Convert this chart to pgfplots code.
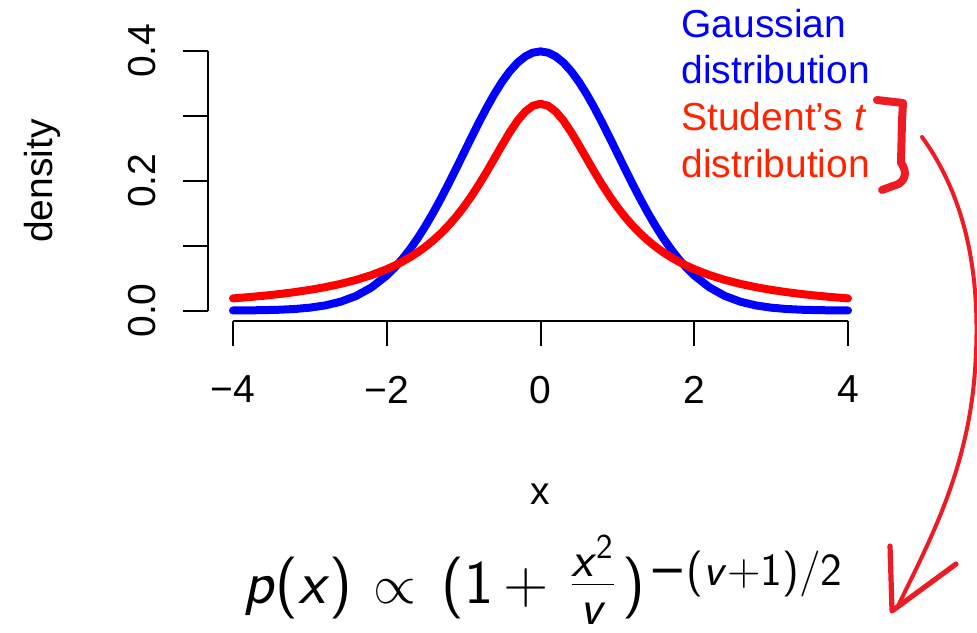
\documentclass[border=0pt]{standalone}
\usepackage{graphicx}
\usepackage{fontspec}
\setmainfont{Liberation Sans}
\newfontfamily\dejavu{DejaVu Sans}
\usepackage{pgfplots}
\usepackage{pgfplotstable}
\pgfplotsset{compat=1.18}

\definecolor{gaussblue}{RGB}{0,0,255}
\definecolor{tred}{RGB}{255,0,0}
\definecolor{tlabel}{RGB}{255,35,0}
\definecolor{ink}{RGB}{237,28,36}

% standard normal density
\pgfplotstableread{
x y
-4.0 0.00013
-3.8 0.00029
-3.6 0.00061
-3.4 0.00123
-3.2 0.00238
-3.0 0.00443
-2.8 0.00792
-2.6 0.01358
-2.4 0.02239
-2.2 0.03547
-2.0 0.05399
-1.9 0.06562
-1.8 0.07895
-1.7 0.09405
-1.6 0.11092
-1.5 0.12952
-1.4 0.14973
-1.3 0.17137
-1.2 0.19419
-1.1 0.21785
-1.0 0.24197
-0.9 0.26609
-0.8 0.28969
-0.7 0.31225
-0.6 0.33322
-0.5 0.35207
-0.4 0.36827
-0.3 0.38139
-0.2 0.39104
-0.1 0.39695
0.0 0.39894
0.1 0.39695
0.2 0.39104
0.3 0.38139
0.4 0.36827
0.5 0.35207
0.6 0.33322
0.7 0.31225
0.8 0.28969
0.9 0.26609
1.0 0.24197
1.1 0.21785
1.2 0.19419
1.3 0.17137
1.4 0.14973
1.5 0.12952
1.6 0.11092
1.7 0.09405
1.8 0.07895
1.9 0.06562
2.0 0.05399
2.2 0.03547
2.4 0.02239
2.6 0.01358
2.8 0.00792
3.0 0.00443
3.2 0.00238
3.4 0.00123
3.6 0.00061
3.8 0.00029
4.0 0.00013
}\gausstab

% Student's t density, one degree of freedom
\pgfplotstableread{
x y
-4.0 0.01872
-3.8 0.02062
-3.6 0.02280
-3.4 0.02534
-3.2 0.02832
-3.0 0.03183
-2.8 0.03601
-2.6 0.04102
-2.4 0.04709
-2.2 0.05451
-2.0 0.06366
-1.9 0.06905
-1.8 0.07507
-1.7 0.08183
-1.6 0.08941
-1.5 0.09794
-1.4 0.10754
-1.3 0.11833
-1.2 0.13045
-1.1 0.14403
-1.0 0.15915
-0.9 0.17586
-0.8 0.19409
-0.7 0.21363
-0.6 0.23405
-0.5 0.25465
-0.4 0.27441
-0.3 0.29203
-0.2 0.30607
-0.1 0.31516
0.0 0.31831
0.1 0.31516
0.2 0.30607
0.3 0.29203
0.4 0.27441
0.5 0.25465
0.6 0.23405
0.7 0.21363
0.8 0.19409
0.9 0.17586
1.0 0.15915
1.1 0.14403
1.2 0.13045
1.3 0.11833
1.4 0.10754
1.5 0.09794
1.6 0.08941
1.7 0.08183
1.8 0.07507
1.9 0.06905
2.0 0.06366
2.2 0.05451
2.4 0.04709
2.6 0.04102
2.8 0.03601
3.0 0.03183
3.2 0.02832
3.4 0.02534
3.6 0.02280
3.8 0.02062
4.0 0.01872
}\studenttab

\tikzset{
  eq/.style={anchor=base west, inner sep=0pt, font=\sffamily\fontsize{31}{36}\selectfont},
  eqsmall/.style={anchor=base west, inner sep=0pt, font=\sffamily\fontsize{23}{26}\selectfont},
  lbl/.style={anchor=base west, inner sep=0pt, font=\fontsize{19.5}{23}\selectfont},
}

\begin{document}
\begin{tikzpicture}
\useasboundingbox (0,0) rectangle (488.5pt,-316pt);
\begin{axis}[
  at={(104.2pt,-160.45pt)}, anchor=south west,
  scale only axis, width=332.1pt, height=139.93pt,
  xmin=-4.32, xmax=4.32, ymin=-0.01596, ymax=0.41486,
  axis lines=left, axis line style={draw=none},
  clip=false,
  xtick={-4,-2,0,2,4},
  xticklabels={−4,−2,0,2,4},
  ytick={0,0.1,0.2,0.3,0.4},
  yticklabels={0.0,,0.2,,0.4},
  tick align=outside,
  major tick length=12.5pt,
  tick style={black, line width=1pt},
  tick label style={font=\fontsize{19.5}{23}\selectfont},
  yticklabel style={rotate=90, anchor=south},
  xticklabel style={anchor=north},
  xticklabel shift=11.5pt,
  yticklabel shift=10pt,
  xlabel={x},
  ylabel={density},
  label style={font=\fontsize{19.5}{23}\selectfont},
  xlabel style={at={(axis description cs:0.4993,-0.6186)}, anchor=center},
  ylabel style={at={(axis description cs:-0.2505,0.4999)}, anchor=center, rotate=0},
]
\addplot[gaussblue, line width=4pt, line cap=round, line join=round] table {\gausstab};
\addplot[tred, line width=4pt, line cap=round, line join=round] table {\studenttab};
% partial axis lines spanning only the tick range
\draw[line width=1pt] (axis cs:-4.32,0) -- (axis cs:-4.32,0.4);
\draw[line width=1pt] (axis cs:-4,-0.01596) -- (axis cs:4,-0.01596);
\end{axis}

\begin{scope}[x=0.5pt, y=-0.5pt]
  \node[lbl, text=gaussblue] at (681,37) {Gaussian};
  \node[lbl, text=gaussblue] at (681,83) {distribution};
  \node[lbl, text=tlabel] at (681,130) {Student’s \textit{t}};
  \node[lbl, text=tlabel] at (681,177) {distribution};

  % hand-drawn brace
  \draw[ink, line width=4pt, line cap=round, line join=round]
    (877,100) .. controls (890,101) .. (903,103)
    -- (902,120) -- (901,163)
    .. controls (908,172) and (905,182) .. (896,185)
    .. controls (890,187) .. (882,190);
  % hand-drawn arrow
  \draw[ink, line width=2pt, line cap=round, line join=round]
    (922,137) .. controls (975,210) and (980,300) .. (975,370)
    .. controls (968,470) and (930,540) .. (898,606);
  \draw[ink, line width=2.6pt, line cap=round, line join=round]
    (890,546) -- (892,611) -- (956,564);

  % p(x) proportional to (1 + x^2/v)^{-(v+1)/2}
  \node[eq] at (243,603) {\textit{p}(\textit{x})};
  \node[anchor=base west, inner sep=0pt] at (373,603) {\scalebox{2.75}{$\propto$}};
  \node[eq] at (441,603) {(1};
  \node[eq] at (503,603) {+};
  \node[anchor=base, inner sep=0pt, font=\sffamily\fontsize{25}{28}\selectfont] at (593,624)
    {\begin{tabular}[b]{@{}c@{}}\textit{x}\textsuperscript{2}\\[-4.5pt]\hline\textit{v}\end{tabular}};
  \node[eq] at (622,603) {)};
  \node[eqsmall] at (648,585) {{\dejavu −}(\textit{v}+1)/2};
\end{scope}
\end{tikzpicture}
\end{document}
